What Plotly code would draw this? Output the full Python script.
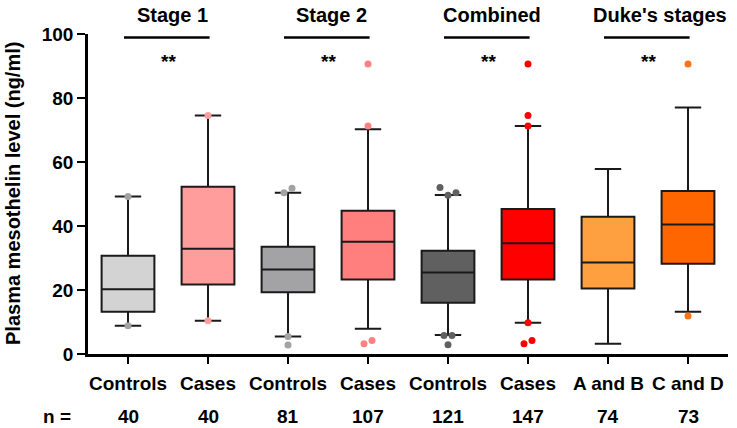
import plotly.graph_objects as go

# ---------------- data ----------------
categories = ["Controls", "Cases", "Controls", "Cases", "Controls", "Cases", "A and B", "C and D"]
n_values = [40, 40, 81, 107, 121, 147, 74, 73]
q1_values = [13.2, 21.7, 19.3, 23.3, 16.0, 23.3, 20.5, 28.2]
median_values = [20.2, 32.9, 26.4, 35.1, 25.5, 34.6, 28.6, 40.5]
q3_values = [30.7, 52.3, 33.5, 44.8, 32.3, 45.3, 42.9, 50.9]
lower_whisker = [8.8, 10.4, 5.5, 7.9, 5.9, 9.8, 3.2, 13.2]
upper_whisker = [49.2, 74.5, 50.4, 70.2, 49.7, 71.25, 57.8, 77.0]
outlier_values = [
    [49.2, 8.8],
    [74.5, 10.4],
    [50.4, 51.8, 5.5, 2.8],
    [71.25, 90.6, 3.2, 4.2],
    [52.0, 49.6, 50.4, 5.8, 5.8, 2.9],
    [71.25, 74.5, 90.6, 9.8, 3.2, 4.2],
    [],
    [90.6, 11.9],
]
group_titles = ["Stage 1", "Stage 2", "Combined", "Duke's stages"]
significance = ["**", "**", "**", "**"]
y_ticks = [0, 20, 40, 60, 80, 100]

# ---------------- styles ----------------
fill_colors = ["#d3d3d3", "#ff9d9d", "#a3a3a6", "#ff7e7e", "#606060", "#ff0000", "#ffa040", "#ff6600"]
point_colors = ["#a3a3a3", "#ff9d9d", "#a3a3a6", "#ff8080", "#606060", "#ff0000", "#ffa040", "#f97316"]
FONT = "Liberation Sans, Arial, Helvetica, sans-serif"
LINE = "#1a1a1a"
PLOT_TOP, PLOT_BOTTOM, PLOT_LEFT, PLOT_W = 34, 354, 88, 640


def py(px):
    """pixel row -> paper y"""
    return (PLOT_BOTTOM - px) / (PLOT_BOTTOM - PLOT_TOP)


def px_x(px):
    return (px - PLOT_LEFT) / PLOT_W


def spread(vals, thresh=2.0, step=0.1):
    """Horizontal offsets for overlapping outlier dots (small beeswarm)."""
    idx = sorted(range(len(vals)), key=lambda k: vals[k])
    clusters, cur = [], []
    for k in idx:
        if cur and vals[k] - vals[cur[-1]] >= thresh:
            clusters.append(cur)
            cur = []
        cur.append(k)
    if cur:
        clusters.append(cur)
    off = [0.0] * len(vals)
    for c in clusters:
        c = sorted(c)
        m = len(c)
        for j, k in enumerate(c):
            off[k] = (j - (m - 1) / 2) * step
    return off


fig = go.Figure()
for i in range(len(categories)):
    fig.add_trace(go.Box(
        x=[i], q1=[q1_values[i]], median=[median_values[i]], q3=[q3_values[i]],
        lowerfence=[lower_whisker[i]], upperfence=[upper_whisker[i]],
        width=0.66, whiskerwidth=0.5, boxpoints=False,
        fillcolor=fill_colors[i], line=dict(color=LINE, width=2),
        showlegend=False, hoverinfo="skip",
    ))
for i, vals in enumerate(outlier_values):
    if not vals:
        continue
    offs = spread(vals)
    fig.add_trace(go.Scatter(
        x=[i + o for o in offs], y=vals, mode="markers",
        marker=dict(color=point_colors[i], size=7, line=dict(width=0)),
        showlegend=False, cliponaxis=False, hoverinfo="skip",
    ))

bold19 = dict(family=FONT, size=19, color="black", weight="bold")
annotations = []
shapes = []
header_x = [0.55, 2.54, 4.55, 6.65]
for g in range(4):
    a = 2 * g
    shapes.append(dict(type="line", xref="x", yref="paper", x0=a - 0.05, x1=a + 1.02,
                       y0=py(37.5), y1=py(37.5), line=dict(color="black", width=2.5)))
    annotations.append(dict(x=header_x[g], y=py(15), xref="x", yref="paper", text=group_titles[g],
                            showarrow=False, font=dict(family=FONT, size=20, color="black", weight="bold"),
                            xanchor="center", yanchor="middle"))
    annotations.append(dict(x=a + 0.5, y=py(61.4), xref="x", yref="paper", text=significance[g],
                            showarrow=False, font=bold19, xanchor="center", yanchor="middle"))

for i in range(len(categories)):
    annotations.append(dict(x=i, y=py(383), xref="x", yref="paper", text=categories[i], showarrow=False,
                            font=bold19, xanchor="center", yanchor="middle"))
    annotations.append(dict(x=i, y=py(416), xref="x", yref="paper", text=str(n_values[i]), showarrow=False,
                            font=bold19, xanchor="center", yanchor="middle"))
annotations.append(dict(x=px_x(57), y=py(416), xref="paper", yref="paper", text="n =", showarrow=False,
                        font=bold19, xanchor="center", yanchor="middle"))
annotations.append(dict(x=px_x(13), y=0.5, xref="paper", yref="paper",
                        text="Plasma mesothelin level (ng/ml)", textangle=-90, showarrow=False,
                        font=dict(family=FONT, size=20, color="black", weight="bold"),
                        xanchor="center", yanchor="middle"))

fig.update_layout(
    width=737, height=428,
    margin=dict(l=PLOT_LEFT, r=737 - PLOT_LEFT - PLOT_W, t=PLOT_TOP, b=428 - PLOT_BOTTOM),
    paper_bgcolor="white", plot_bgcolor="white",
    showlegend=False,
    shapes=shapes, annotations=annotations,
    font=dict(family=FONT, color="black"),
)
fig.update_xaxes(range=[-0.5, 7.5], tickmode="array", tickvals=list(range(len(categories))),
                 showticklabels=False, ticks="outside", ticklen=7, tickwidth=2.2, tickcolor="black",
                 showline=True, linewidth=2.5, linecolor="black", showgrid=False, zeroline=False,
                 fixedrange=True)
fig.update_yaxes(range=[0, 100], tickmode="array", tickvals=y_ticks, ticks="outside", ticklen=8,
                 tickwidth=2.2, tickcolor="black", showline=True, linewidth=2.5, linecolor="black",
                 showgrid=False, zeroline=False,
                 tickfont=bold19, fixedrange=True)

fig.write_html("out.html", config={"displayModeBar": False},
               post_script="document.body.style.margin='0';document.body.style.overflow='hidden';")
